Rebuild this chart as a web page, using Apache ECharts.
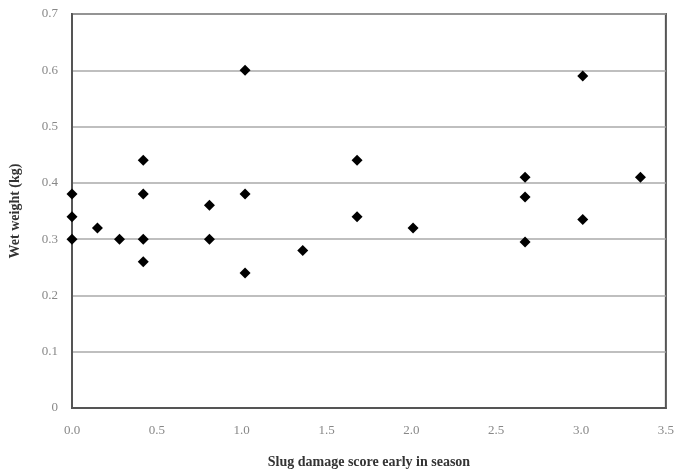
<!DOCTYPE html>
<html>
<head>
<meta charset="utf-8">
<script src="https://cdn.jsdelivr.net/npm/echarts@6/dist/echarts.min.js"></script>
<style>
  html, body { margin: 0; padding: 0; background: #fff; }
  #chart { width: 677px; height: 474px; }
</style>
</head>
<body>
<div id="chart"></div>
<script>
// slug damage score (x) vs wet weight (y)
var damageScore = [0, 0, 0, 0.15, 0.28, 0.42, 0.42, 0.42, 0.42, 0.81, 0.81,
  1.02, 1.02, 1.02, 1.36, 1.68, 1.68, 2.01, 2.67, 2.67, 2.67, 3.01, 3.01, 3.35];
var wetWeight = [0.38, 0.34, 0.30, 0.32, 0.30, 0.44, 0.38, 0.30, 0.26, 0.36, 0.30,
  0.60, 0.38, 0.24, 0.28, 0.44, 0.34, 0.32, 0.41, 0.375, 0.295, 0.59, 0.335, 0.41];
var xTicks = ['0.0', '0.5', '1.0', '1.5', '2.0', '2.5', '3.0', '3.5'];
var yTicks = ['0', '0.1', '0.2', '0.3', '0.4', '0.5', '0.6', '0.7'];

var points = damageScore.map(function (x, i) { return [x, wetWeight[i]]; });

var serif = '"Liberation Serif", "DejaVu Serif", serif';
var chart = echarts.init(document.getElementById('chart'));
chart.setOption({
  backgroundColor: '#fff',
  animation: false,
  grid: {
    left: 68, right: 10, top: 14, bottom: 65,
    show: true, borderColor: '#555', borderWidth: 2
  },
  xAxis: {
    type: 'value', min: 0, max: 3.5, interval: 0.5,
    name: 'Slug damage score early in season',
    nameLocation: 'middle', nameGap: 47,
    nameTextStyle: { fontFamily: serif, fontWeight: 'bold', fontSize: 14, color: '#333' },
    axisLine: { show: true, lineStyle: { color: '#555', width: 2 } },
    axisTick: { show: false },
    splitLine: { show: false },
    axisLabel: {
      margin: 16, fontFamily: serif, fontSize: 13, color: '#888',
      formatter: function (v) { return xTicks[Math.round(v / 0.5)]; }
    }
  },
  yAxis: {
    type: 'value', min: 0, max: 0.7, interval: 0.1,
    name: 'Wet weight (kg)',
    nameLocation: 'middle', nameGap: 50, nameRotate: 90,
    nameTextStyle: { fontFamily: serif, fontWeight: 'bold', fontSize: 14, color: '#333' },
    axisLine: { show: true, lineStyle: { color: '#555', width: 2 } },
    axisTick: { show: false },
    splitLine: { show: true, lineStyle: { color: '#aaa', width: 1.5 } },
    axisLabel: {
      margin: 14, fontFamily: serif, fontSize: 13, color: '#888',
      formatter: function (v) { return yTicks[Math.round(v / 0.1)]; }
    }
  },
  series: [{
    type: 'scatter',
    symbol: 'diamond',
    symbolSize: 11,
    itemStyle: { color: '#000', opacity: 1 },
    data: points
  }]
});
</script>
</body>
</html>
